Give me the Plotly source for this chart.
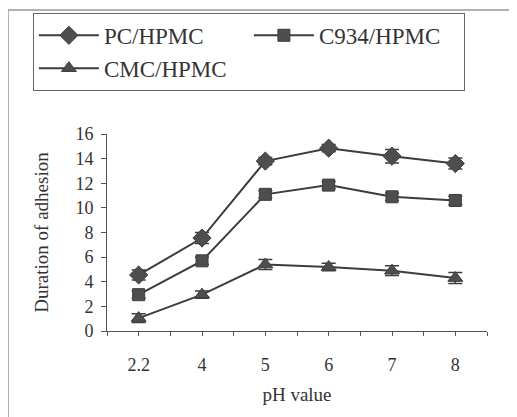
import plotly.graph_objects as go

ph_labels = ["2.2", "4", "5", "6", "7", "8"]
pc_hpmc = [4.55, 7.55, 13.8, 14.85, 14.2, 13.6]
pc_err = [0.4, 0.45, 0.3, 0.3, 0.55, 0.45]
c934_hpmc = [2.95, 5.7, 11.1, 11.85, 10.9, 10.6]
c934_err = [0.3, 0.3, 0.3, 0.3, 0.3, 0.35]
cmc_hpmc = [1.05, 2.95, 5.4, 5.2, 4.9, 4.3]
cmc_err = [0.35, 0.3, 0.4, 0.3, 0.4, 0.45]

xs = list(range(len(ph_labels)))
line_c = "#3c3c3c"
mark_c = "#4e4e4e"
font_f = "Liberation Serif"

fig = go.Figure()
series = [
    ("PC/HPMC", pc_hpmc, pc_err, "diamond", 14),
    ("C934/HPMC", c934_hpmc, c934_err, "square", 12),
    ("CMC/HPMC", cmc_hpmc, cmc_err, "triangle-up", 13),
]
for name, ys, err, sym, sz in series:
    fig.add_trace(go.Scatter(
        x=xs, y=ys, name=name, mode="lines+markers",
        line=dict(color=line_c, width=2),
        marker=dict(symbol=sym, size=sz, color=mark_c, line=dict(color=line_c, width=1)),
        error_y=dict(type="data", array=err, visible=True, color=line_c, thickness=1.5, width=7),
    ))

tickvals = [i * 0.5 - 0.5 for i in range(13)]
ticktext = []
for v in tickvals:
    if abs(v - round(v)) < 1e-9 and 0 <= round(v) < len(ph_labels):
        ticktext.append(ph_labels[int(round(v))])
    else:
        ticktext.append("")

fig.update_layout(
    width=517, height=417,
    margin=dict(l=99, r=38, t=126, b=94, autoexpand=False),
    paper_bgcolor="white", plot_bgcolor="white",
    font=dict(family=font_f, color="#333333", size=18),
    showlegend=True,
    legend=dict(
        orientation="h", x=-0.195, y=1.615, xanchor="left", yanchor="top",
        bordercolor="#666666", borderwidth=1, bgcolor="white",
        font=dict(family=font_f, size=23, color="#333333"),
        entrywidth=140, entrywidthmode="pixels",
        tracegroupgap=0, itemwidth=60,
    ),
    xaxis=dict(
        range=[-0.5, 5.5], tickmode="array", tickvals=tickvals, ticktext=ticktext,
        ticks="outside", ticklen=4, tickcolor="#555555", showline=True, linecolor="#555555",
        linewidth=1, showgrid=False, zeroline=False, ticklabelstandoff=13,
        tickfont=dict(family=font_f, size=18, color="#333333"),
        title=dict(text="pH value", font=dict(family=font_f, size=19, color="#333333"), standoff=14),
    ),
    yaxis=dict(
        range=[0, 16], tickmode="linear", tick0=0, dtick=2,
        ticks="outside", ticklen=5, tickcolor="#555555", showline=True, linecolor="#555555",
        linewidth=1, showgrid=False, zeroline=False, ticklabelstandoff=4,
        tickfont=dict(family=font_f, size=18, color="#333333"),
        title=dict(text="Duration of adhesion", font=dict(family=font_f, size=19, color="#333333"), standoff=21),
    ),
    shapes=[
        dict(type="line", xref="paper", yref="paper", x0=-0.2605, x1=-0.2605, y0=-0.45, y1=1.6294,
             line=dict(color="#999999", width=1.5)),
        dict(type="line", xref="paper", yref="paper", x0=-0.2605, x1=1.1, y0=1.6294, y1=1.6294,
             line=dict(color="#999999", width=1.5)),
    ],
)

fig.write_html("out.html")
